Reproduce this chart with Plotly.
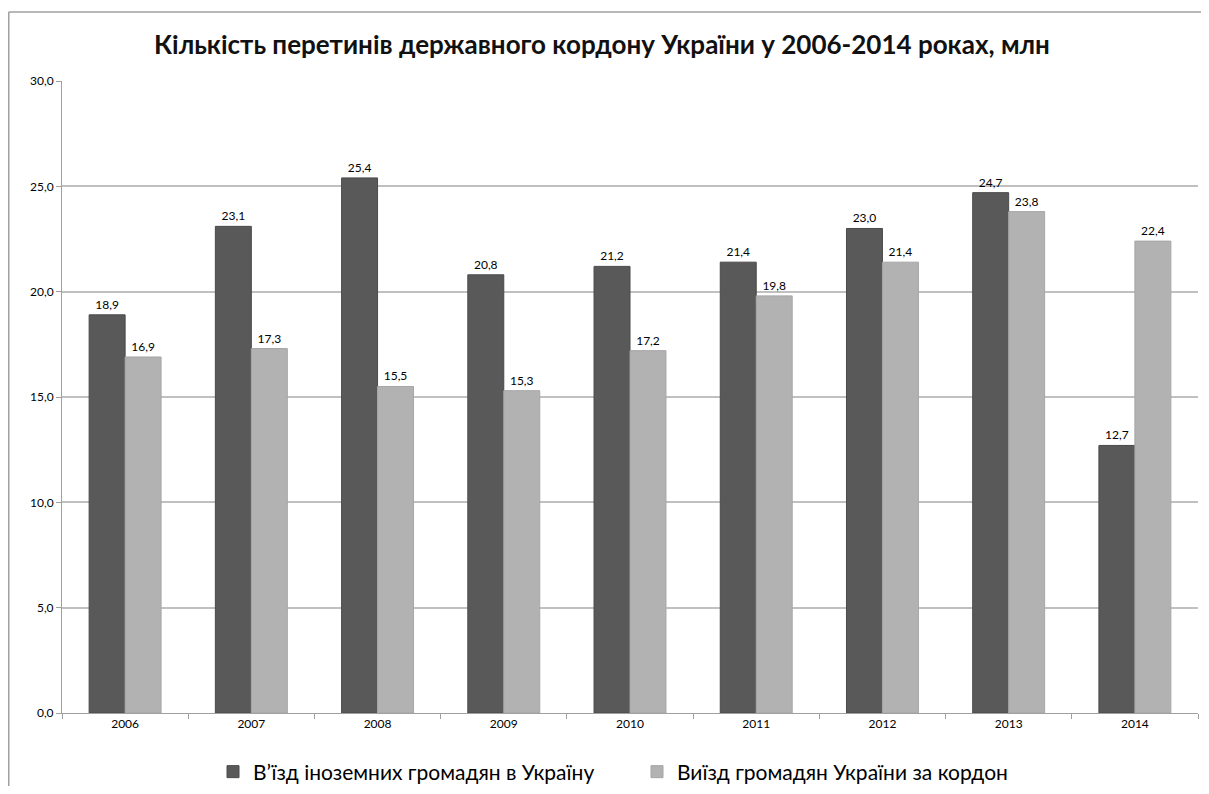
import plotly.graph_objects as go

years = ["2006", "2007", "2008", "2009", "2010", "2011", "2012", "2013", "2014"]
entry_foreigners = [18.9, 23.1, 25.4, 20.8, 21.2, 21.4, 23.0, 24.7, 12.7]
exit_citizens = [16.9, 17.3, 15.5, 15.3, 17.2, 19.8, 21.4, 23.8, 22.4]
series_names = ["В’їзд іноземних громадян в Україну", "Виїзд громадян України за кордон"]
title_text = "Кількість перетинів державного кордону України у 2006-2014 роках, млн"

font_family = "Lato, Open Sans, DejaVu Sans, sans-serif"

# page body has an 8px default margin; figure is sized/positioned to compensate
OFF = 8
W, H = 1209 - 2 * OFF, 794 - 2 * OFF
L, T = 62 - OFF, 81 - OFF
R = W - (1198 - OFF)
B = H - (713 - OFF)
plot_w = W - L - R
plot_h = H - T - B

fig = go.Figure()
fig.add_trace(go.Bar(
    x=years, y=entry_foreigners, name=series_names[0],
    marker=dict(color="#595959", line=dict(color="#4a4a4a", width=1)),
    texttemplate="%{y:.1f}", textposition="outside",
    textfont=dict(size=12, color="#000000", family=font_family),
    cliponaxis=False,
))
fig.add_trace(go.Bar(
    x=years, y=exit_citizens, name=series_names[1],
    marker=dict(color="#b2b2b2", line=dict(color="#a6a6a6", width=1)),
    texttemplate="%{y:.1f}", textposition="outside",
    textfont=dict(size=12, color="#000000", family=font_family),
    cliponaxis=False,
))

fig.update_layout(
    width=W, height=H,
    paper_bgcolor="white", plot_bgcolor="white",
    separators=", ",
    barmode="group", bargap=0.43, bargroupgap=0,
    margin=dict(l=L, r=R, t=T, b=B, autoexpand=False),
    title=dict(text="<b>" + title_text + "</b>", x=(602 - OFF) / W, xanchor="center",
               y=1 - (45 - OFF) / H, yanchor="middle",
               font=dict(size=26, color="#111111", family=font_family)),
    font=dict(family=font_family, color="#000000"),
    showlegend=True,
    legend=dict(orientation="h", xref="container", yref="container",
                x=(213 - OFF) / W, xanchor="left",
                y=1 - (772 - OFF) / H, yanchor="middle",
                font=dict(size=21, color="#000000", family=font_family),
                traceorder="normal", itemwidth=30,
                entrywidth=379, entrywidthmode="pixels"),
)
fig.update_xaxes(
    type="category", showgrid=False, showline=True, linecolor="#a0a0a0", linewidth=1,
    ticks="outside", tickson="boundaries", ticklen=5, tickcolor="#a0a0a0",
    tickfont=dict(size=12, color="#000000"),
)
fig.update_yaxes(
    range=[0, 30], dtick=5, tickformat=".1f",
    showgrid=True, gridcolor="#c0c0c0", gridwidth=1.5,
    showline=True, linecolor="#a0a0a0", linewidth=1,
    ticks="outside", ticklen=5, tickcolor="#a0a0a0",
    tickfont=dict(size=12, color="#000000"), zeroline=False,
)

# outer chart border (top and left edges visible in the reference)
top_y = 1 + (T - (12 - OFF)) / plot_h
left_x = -(L - 0.75) / plot_w
fig.add_shape(type="line", xref="paper", yref="paper",
              x0=left_x, x1=1 + R / plot_w, y0=top_y, y1=top_y,
              line=dict(color="#a0a0a0", width=1.5))
fig.add_shape(type="line", xref="paper", yref="paper",
              x0=left_x, x1=left_x, y0=top_y, y1=-B / plot_h,
              line=dict(color="#a0a0a0", width=1.5))

fig.write_html("out.html")
